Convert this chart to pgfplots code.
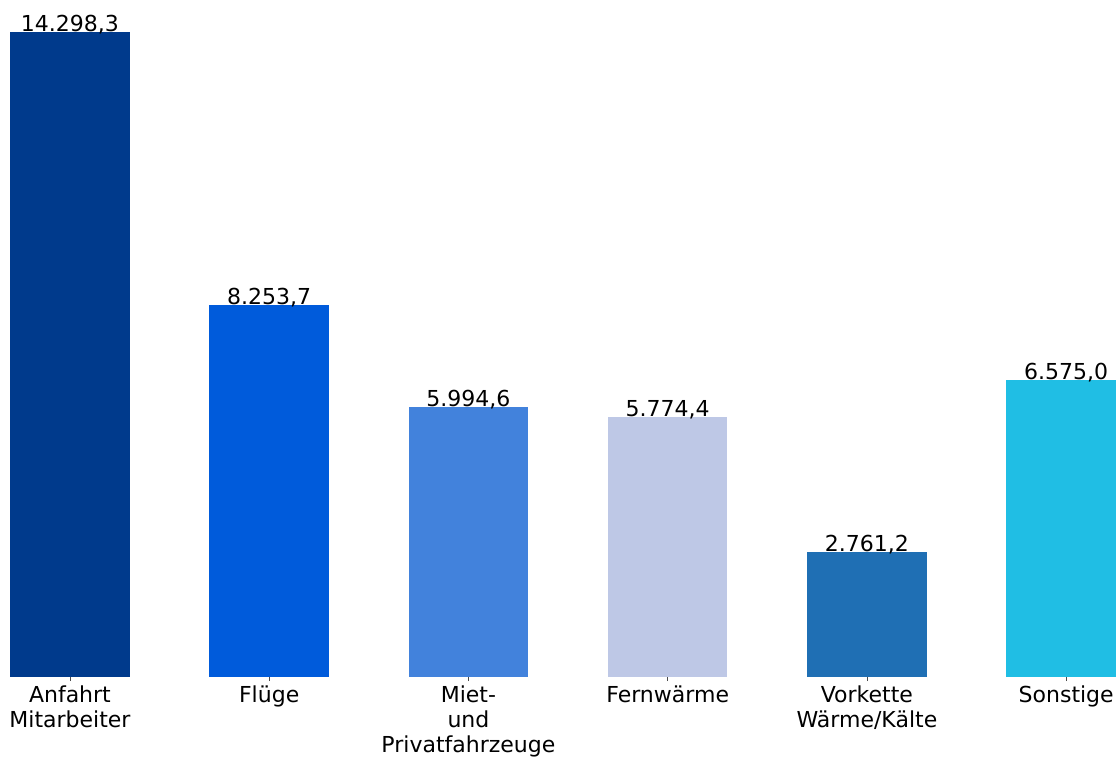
\documentclass[border=0pt]{standalone}
\usepackage{fontspec}
\setmainfont{DejaVu Sans}
\usepackage{pgfplots}
\pgfplotsset{compat=1.18}

\definecolor{c1}{RGB}{0,58,140}
\definecolor{c2}{RGB}{0,91,219}
\definecolor{c3}{RGB}{66,130,220}
\definecolor{c4}{RGB}{190,200,230}
\definecolor{c5}{RGB}{31,111,180}
\definecolor{c6}{RGB}{32,190,228}

\begin{document}
\fontsize{22}{25}\selectfont
\begin{tikzpicture}
\begin{axis}[
    name=ax,
    at={(0,0)}, anchor=south west,
    width=1116pt, height=677pt,
    scale only axis,
    ybar, bar width=0.6, bar shift=0pt,
    xmin=-0.351, xmax=5.25,
    ymin=0, ymax=15008,
    axis line style={draw=none},
    hide y axis,
    xtick={0,1,2,3,4,5},
    xticklabels={{Anfahrt\\Mitarbeiter},{Flüge},{Miet-\\und\\Privatfahrzeuge},{Fernwärme},{Vorkette\\Wärme/Kälte},{Sonstige}},
    xticklabel style={align=center, font=\fontsize{22}{25}\selectfont, text=black},
    tick align=outside,
    major tick length=4pt,
    tick style={draw=black!70, line width=0.8pt},
    x tick label style={yshift=3pt},
    nodes near coords,
    every node near coord/.append style={anchor=base, inner sep=0pt, yshift=0.5pt, font=\fontsize{22}{25}\selectfont, text=black},
    /pgf/number format/.cd, fixed, precision=1, fixed zerofill, use comma, assume math mode=true,
]
\addplot[fill=c1, draw=none] coordinates {(0,14298.3)};
\addplot[fill=c2, draw=none] coordinates {(1,8253.7)};
\addplot[fill=c3, draw=none] coordinates {(2,5994.6)};
\addplot[fill=c4, draw=none] coordinates {(3,5774.4)};
\addplot[fill=c5, draw=none] coordinates {(4,2761.2)};
\addplot[fill=c6, draw=none] coordinates {(5,6575.0)};
\end{axis}
\pgfresetboundingbox
\useasboundingbox (0,-79pt) rectangle (1116pt,677pt);
\end{tikzpicture}
\end{document}
